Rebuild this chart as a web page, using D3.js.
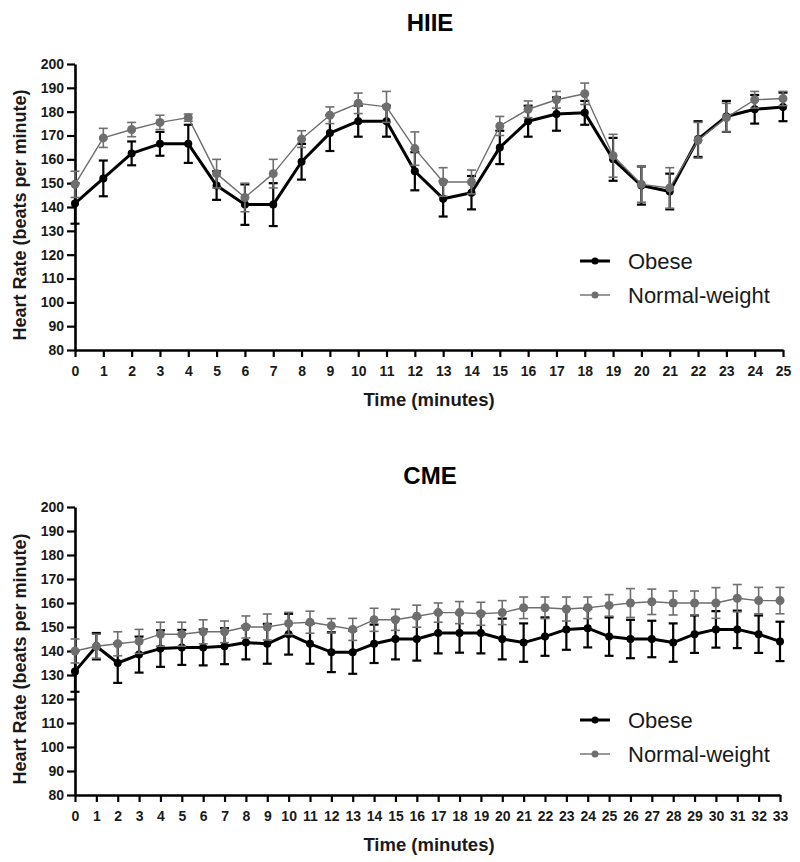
<!DOCTYPE html>
<html>
<head>
<meta charset="utf-8">
<script src="https://cdn.jsdelivr.net/npm/d3@7/dist/d3.min.js"></script>
<style>
  html, body { margin: 0; padding: 0; background: #fff; }
  svg { display: block; }
  text { font-family: Arial, "Liberation Sans", Helvetica, sans-serif; }
</style>
</head>
<body>
<svg id="chart" width="800" height="862"></svg>
<script>
// ---------- DATA ----------
const hiieTime = d3.range(0, 26);
const hiieObese   = [141.5,152,162.5,166.5,166.5,149,141,141,159,171,176,176,155,143.5,146,165,176,179,179.5,160,149,146.5,168.5,178,181,182];
const hiieObeseSD = [8.5,7.5,5,5,8,6,8.5,9,7.5,7.5,6.5,6.5,8,7.5,7,7,6.5,7,5,9,8,7.5,7.5,6.5,6,6];
const hiieNormal   = [149.5,169,172.5,175.5,177.5,154,144,154,168.5,178.5,183.5,182,164.5,150.5,150.5,174,181,185,187.5,161.5,149.5,148,168,177.5,185,185.5];
const hiieNormalSD = [5.5,4,3,3,1.5,6,6,6,3.5,3.5,4.3,6.5,7,6,5,4,3.5,3.5,4.5,9,7.5,8.5,7.5,6,3.5,3];

const cmeTime = d3.range(0, 34);
const cmeObese   = [131.5,142,135,138.5,141,141.5,141.5,142,143.5,143,147,143,139.5,139.5,143,145,145,147.5,147.5,147.5,145,143.5,146,149,149.5,146,145,145,143.5,147,149,149,147,144];
const cmeObeseSD = [8.5,5.5,8.3,7.5,7.6,7.3,7.5,7.5,7,8.3,8.5,8.3,8.3,9,8,8.5,9,8.5,8.2,8.5,8.5,8,8,8.5,8,8,8,7.6,8,7.8,7.6,7.8,7.8,8.2];
const cmeNormal   = [140,142,143,144,147,147,148,148,150,150,151.5,152,150.5,149,153,153,154.5,156,156,155.5,156,158,158,157.5,158,159,160,160.5,160,160,160,162,161,161];
const cmeNormalSD = [5,5,5,5,5,5,5,4.5,4.6,5.4,4.6,4.6,3,4.6,4.8,4.4,4.6,4,4.6,4.8,5,4.5,4.5,5,4.5,4.5,6,5.3,5,5,6.4,5.7,5.5,5.5];

const yTicks = d3.range(80, 201, 10);
const seriesNames = ["Obese", "Normal-weight"];
const titles = ["HIIE", "CME"];
const xLabel = "Time (minutes)";
const yLabel = "Heart Rate (beats per minute)";

// ---------- DRAW ----------
const svg = d3.select("#chart");
const FONT = 'Arial, "Liberation Sans", Helvetica, sans-serif';
const obeseColor = "#000000";
const normalColor = "#6e6e6e";

function drawPanel(cfg) {
  const g = svg.append("g");
  const x = d3.scaleLinear().domain([0, cfg.time[cfg.time.length - 1]]).range([cfg.x0, cfg.x1]);
  const y = d3.scaleLinear().domain([80, 200]).range([cfg.yBottom, cfg.yTop]);

  // title
  g.append("text").attr("x", cfg.titleX).attr("y", cfg.titleY)
    .attr("text-anchor", "middle").attr("font-size", 24).attr("font-weight", "bold")
    .attr("fill", "#000").text(cfg.title);

  // axes
  const yAxis = d3.axisLeft(y).tickValues(yTicks).tickSize(8).tickSizeOuter(0).tickPadding(3);
  const ya = g.append("g").attr("transform", `translate(${cfg.x0},0)`).call(yAxis);
  const xAxis = d3.axisBottom(x).tickValues(cfg.time).tickSize(7).tickSizeOuter(0).tickPadding(9);
  const xa = g.append("g").attr("transform", `translate(0,${cfg.yBottom})`).call(xAxis);
  [ya, xa].forEach(a => {
    a.select(".domain").attr("stroke", "#000").attr("stroke-width", 2.6);
    a.selectAll(".tick line").attr("stroke", "#000").attr("stroke-width", 2.2);
    a.selectAll(".tick text").attr("fill", "#1a1a1a").attr("font-size", 14)
      .attr("font-weight", "bold").attr("font-family", FONT);
  });

  // axis labels
  g.append("text").attr("x", cfg.xLabelX).attr("y", cfg.xLabelY)
    .attr("text-anchor", "middle").attr("font-size", 18.5).attr("font-weight", "bold")
    .attr("fill", "#1a1a1a").text(xLabel);
  g.append("text")
    .attr("transform", `translate(26,${cfg.yLabelY}) rotate(-90)`)
    .attr("text-anchor", "middle").attr("font-size", 18).attr("font-weight", "bold")
    .attr("fill", "#1a1a1a").text(yLabel);

  const series = [
    { vals: cfg.obese, sd: cfg.obeseSD, color: obeseColor, lw: 3, ebw: 2.2, r: 4 },
    { vals: cfg.normal, sd: cfg.normalSD, color: normalColor, lw: 1.4, ebw: 1.6, r: 4.5 }
  ];
  const capHalf = 4.5;
  series.forEach(s => {
    const data = cfg.time.map((t, i) => ({ t, v: s.vals[i], e: s.sd[i] }));
    const eg = g.append("g");
    eg.selectAll("line.eb").data(data).join("line")
      .attr("x1", d => x(d.t)).attr("x2", d => x(d.t))
      .attr("y1", d => y(d.v - d.e)).attr("y2", d => y(d.v + d.e))
      .attr("stroke", s.color).attr("stroke-width", s.ebw);
    eg.selectAll("line.capt").data(data).join("line")
      .attr("x1", d => x(d.t) - capHalf).attr("x2", d => x(d.t) + capHalf)
      .attr("y1", d => y(d.v + d.e)).attr("y2", d => y(d.v + d.e))
      .attr("stroke", s.color).attr("stroke-width", s.ebw);
    eg.selectAll("line.capb").data(data).join("line")
      .attr("class", "capb")
      .attr("x1", d => x(d.t) - capHalf).attr("x2", d => x(d.t) + capHalf)
      .attr("y1", d => y(d.v - d.e)).attr("y2", d => y(d.v - d.e))
      .attr("stroke", s.color).attr("stroke-width", s.ebw);
    g.append("path").datum(data)
      .attr("d", d3.line().x(d => x(d.t)).y(d => y(d.v)))
      .attr("fill", "none").attr("stroke", s.color).attr("stroke-width", s.lw)
      .attr("stroke-linejoin", "round");
    g.append("g").selectAll("circle").data(data).join("circle")
      .attr("cx", d => x(d.t)).attr("cy", d => y(d.v)).attr("r", s.r)
      .attr("fill", s.color);
  });

  // legend
  const lg = g.append("g");
  series.forEach((s, i) => {
    const ly = cfg.legendY + i * 34;
    lg.append("line").attr("x1", 580).attr("x2", 610).attr("y1", ly).attr("y2", ly)
      .attr("stroke", s.color).attr("stroke-width", s.lw);
    lg.append("circle").attr("cx", 595).attr("cy", ly).attr("r", i === 0 ? 3.5 : 3.5).attr("fill", s.color);
    lg.append("text").attr("x", 628).attr("y", ly + 8)
      .attr("font-size", 22).attr("fill", "#1a1a1a").text(seriesNames[i]);
  });
}

drawPanel({
  title: titles[0], titleX: 430, titleY: 31,
  time: hiieTime, obese: hiieObese, obeseSD: hiieObeseSD, normal: hiieNormal, normalSD: hiieNormalSD,
  x0: 75, x1: 783, yTop: 64, yBottom: 350,
  xLabelX: 429, xLabelY: 406, yLabelY: 215, legendY: 261
});
drawPanel({
  title: titles[1], titleX: 430, titleY: 484,
  time: cmeTime, obese: cmeObese, obeseSD: cmeObeseSD, normal: cmeNormal, normalSD: cmeNormalSD,
  x0: 75, x1: 780, yTop: 507, yBottom: 795,
  xLabelX: 429, xLabelY: 851, yLabelY: 659, legendY: 720
});
</script>
</body>
</html>
